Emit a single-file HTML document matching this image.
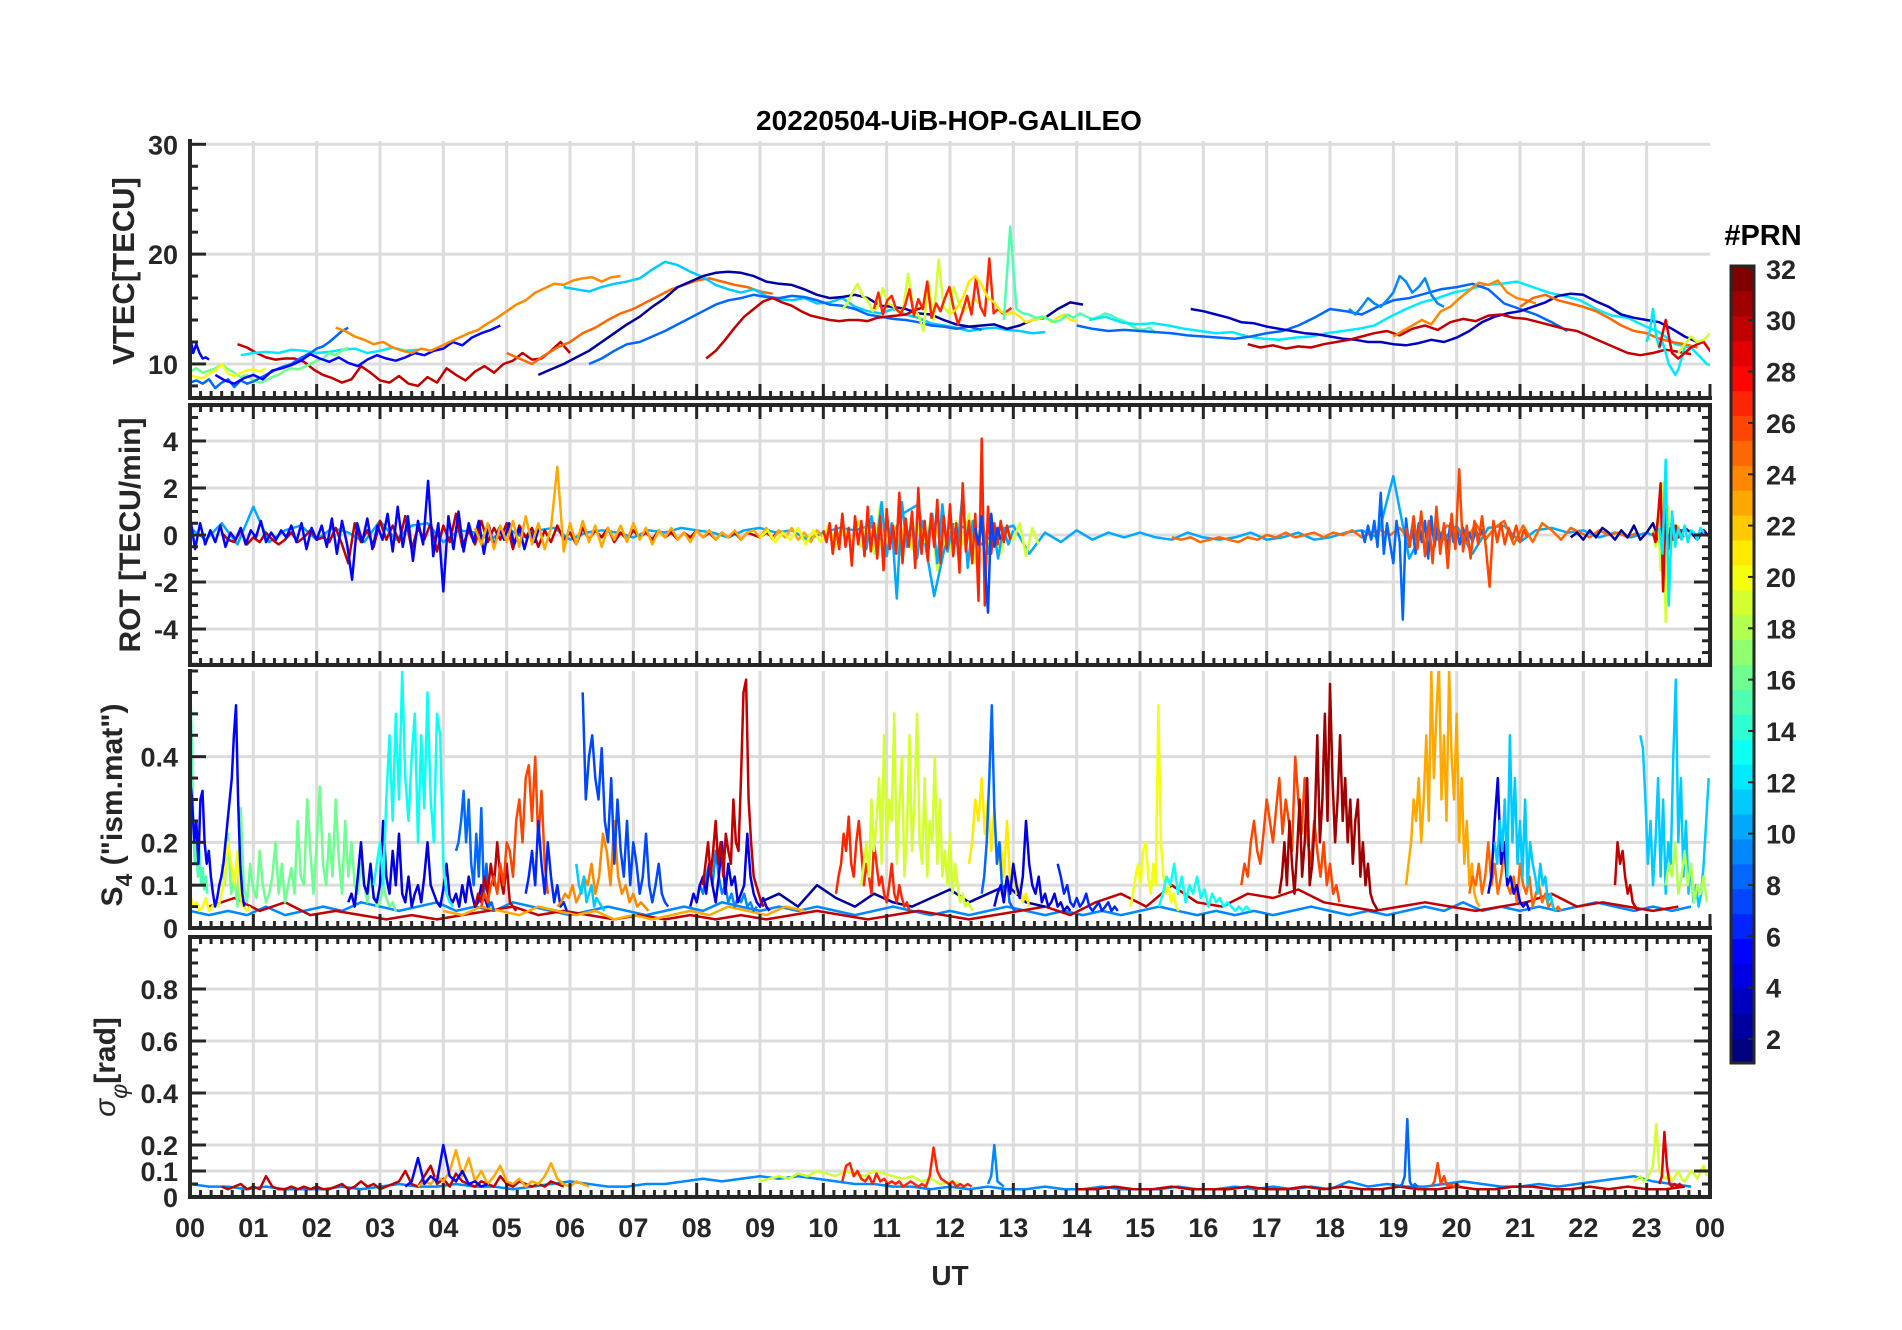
<!DOCTYPE html>
<html><head><meta charset="utf-8"><style>
html,body{margin:0;padding:0;background:#fff;}
svg{display:block;font-family:"Liberation Sans",Arial,sans-serif;}
</style></head><body>
<svg id="fig" width="1902" height="1330" viewBox="0 0 1902 1330">
<text x="949" y="130" text-anchor="middle" font-size="28" font-weight="bold" fill="#000">20220504-UiB-HOP-GALILEO</text>
<text transform="translate(134,271) rotate(-90)" text-anchor="middle" font-size="31" font-weight="bold" fill="#262626">VTEC[TECU]</text>
<text transform="translate(140,535) rotate(-90)" text-anchor="middle" font-size="30" font-weight="bold" fill="#262626">ROT [TECU/min]</text>
<text transform="translate(122,805) rotate(-90)" text-anchor="middle" font-size="30" font-weight="bold" fill="#262626">S<tspan font-size="23" dy="10">4</tspan><tspan dy="-10"> ("ism.mat")</tspan></text>
<text transform="translate(115,1067) rotate(-90)" text-anchor="middle" font-size="30" font-weight="bold" fill="#262626"><tspan font-style="italic" font-weight="normal">σ</tspan><tspan font-style="italic" font-weight="normal" font-size="23" dy="12">φ</tspan><tspan dy="-12">[rad]</tspan></text>
<text x="950" y="1285" text-anchor="middle" font-size="28" font-weight="bold" fill="#262626">UT</text>
<text x="1763" y="245" text-anchor="middle" font-size="29" font-weight="bold" fill="#000">#PRN</text>
<g id="layers"></g>
</svg>
<script>
// ---- colorbar data ----
const prnTicks = [2,4,6,8,10,12,14,16,18,20,22,24,26,28,30,32];
const hourTicks = ["00","01","02","03","04","05","06","07","08","09","10","11","12","13","14","15","16","17","18","19","20","21","22","23","00"];
// ---- VTEC series values ----
const v1=[12.5,11,11.8,11,10.5,10.6,10.4];
const v2=[11.8,11.5,11,10.6,10.4,10.5,10.5,10.2,9.5,9,8.7,8.3,8.6,9.8,9.2,8.5,8.3,8.9,8.2,8.0,8.8,8.3,9.6,9.0,8.5,9.3,9.8,9.2,10,10.3,11,10.4,10.5,11.2,12,11];
const v3=[10.8,11,11.1,11,11.3,11.2,11,11.1,11.3,11.4,11,11.2,11.5,11.2,11.3];
const v4=[9.3,9.6,9.2,9.4,9.6,10,9.5,9.2,8.8,9,8.5,8.3,8.5,8.8,9,9.4,9.6,9.5,9.7,10,10.3,10.5,11,10.8,11.2,11.5];
const v5=[9,8.8,8.7,9.1,9.4,10,9.1,8.9,9.2,9.4,9.5,9.3,9.6];
const v6=[8.3,8.5,8.2,8.6,7.8,8.3,8.6,7.9,8.5,8.2,8.4,8.7,9,9.3,9.6,9.8,10,10.4,10.7,11,11.4,11.6,12,12.5,13,13.3];
const v7=[9,8.5,8.2,8.7,9,8.6,9.4,9.6,9.9,10.3,10.9,10.5,10.2,10.6,10.1,9.8,10.4,10.8,10.5,10.3,10.6,11,10.8,11.2,11.4,12,11.7,12.4,12.8,13.1,13.5];
const v8=[13.3,13,12.5,12.2,11.8,12,11.5,11.2,11,11.4,11.2,11.6,12,12.4,12.8,13.1,13.7,14.2,14.8,15.4,15.8,16.5,16.9,17.3,17.2,17.6,17.8,17.9,17.5,17.9,18];
const v9=[11,10.5,10,10.8,11.5,12,12.8,13.3,14,14.6,15,15.6,16.2,16.8,17.2,17.6,17.8,17.5,17.2,17,16.6,16.4];
const v10=[17,16.8,16.6,17,17.3,17.5,17.8,18.6,19.3,19,18.4,17.9,17.2,16.8,16.5,16.8,16.2,15.9,15.8,16,15.5,15.6,16,15.2,14.8,14.6,15,14.5,14.2,13.7,13.5,13.3,13,13.2,13.3,13.1,13,12.8,12.9];
const v11=[10,10.5,11.2,11.8,12,12.5,13,13.6,14.2,14.8,15.4,15.8,16,16.3,16.1,16,16.2,16.1,15.8,15.4,15.3,15,14.5,14.3,14.1,14,13.8,13.5,13.4,13.2,13.4,13.1];
const v12=[9,9.5,10,10.6,11.2,12,12.8,13.6,14.3,15.2,16,17,17.5,18,18.3,18.4,18.3,18,17.5,17.3,17.2,16.8,16.3,16,16.1,16.3,16,15.3,15.2,15,14.6,14.5,14,13.6,13.4,13.5,13.6,13.2,13.5,14,14.2,15,15.6,15.4];
const v13=[10.5,11.2,12.2,13.3,14.3,15,15.7,16,15.6,15.3,14.8,14.4,14.2,14,13.9,14,14,13.9,14.2,14.3,14.4,14.5,14.9,15.2];
const v14=[15,15.5,16.5,17.3,16.2,15.8,14.8,15.2,16.9,15.5,15.3,14.7,15,18.2,15,14.5,13,17.5,14,19.5,15.2,14.6,17,15.5,14.8,15.3,16,15.5];
const v15=[15,16.5,14.5,15.8,16.2,15,14.6,15.3,16.8,14.4,15.9,15,17.5,14.2,15.5,14.8,16,17,15,13.6,14.8,16.2,14.5,17.8,15.2,14.4,19.6,14.6,15,14.6,14.8,15.1];
const v16=[14.5,15,16,17.5,18,17.2,16,15.6,14.8,14.5,14.7,14.3,13.8,14,14.1,14.3,13.8,14.2,14.5,14,13.9];
const v17=[14,22.5,15,14.6,14.5,14.2,14.3,14.1,13.8,14,14.5,14.2,14.6,14.3,14.1,14.3,14.6,14.4,14.1,13.9,13.5,13.2,13.1,13.3,12.8];
const v18=[14,14.3,13.8,13.6,13.7,13.5,13.2,13,12.8,12.9,12.5,12.3,12.2,12.4,12.5,12.8,13,13.2,13.5,14.3,15,15.6,16,16.5,16.8,17.2,17.3,17.5,17,16.5,16.2,15.8,15,14.4,14.2,13.5,12.9,11.8,11.5,10,9.5];
const v19=[15,14.8,14.5,14.2,13.8,13.7,13.4,13.2,13,12.8,12.7,12.5,12.3,12.2,12,12,11.8,11.7,11.9,12.2,12,12.4,13,13.8,14.3,14.6,14.8,15.2,15.6,16.2,16.4,16.3,15.7,15.2,14.5,14.2,14,13.8,13.2,12.5,12];
const v20=[11.8,11.5,11.7,11.4,11.6,11.5,11.8,12,12.2,12.5,12.8,13,12.6,13.2,13.5,13.1,13.8,14.1,13.9,14.4,14.5,14.2,14.1,13.8,13.5,13.2,13,12.5,12,11.5,11,10.8,11,11.3,11.1,10.9];
const v21=[15,14.5,15.2,16,15.5,15.2,15.8,16.5,18,17.5,16.5,17,17.8,16.3,15.5,15.2];
const v22=[12.5,13,13.5,14,13.6,14.8,15.2,16,16.7,17.4,17.2,17.6,16.5,16,15.8,15.5];
const v23=[15.2,16,16.3,15.8,15.5,15.2,14.8,14.2,13.5,13,12.8,12.3,12,11.8,11.5];
const v24=[12,13,15,12.5,11.5,12,11,10,9.5,9,9.5,10.5,11.5];
const v25=[11.5,14,11,10.5,11,11.5,11.8,12,11.2,10.5];
const v26=[11,11.8,12.5,12,12.2,12.8];
const v27=[13.5,13.2,13,13.1,13,12.9,12.8,12.6,12.5,12.4,12.3,12.5,12.8,13,13.5,14.2,15,14.8,14.5,15.2,15.8,16,16.4,16.8,17,17.3,16.8,15.5,15,14.5,13.8,13];
// [values, prn, startHour, stepHour]
const vtecSeries=[[v1,5,0,.05],[v2,30,.75,.15],[v3,12,.8,.2],[v4,16,0,.1],[v5,20,0,.1],[v6,8,0,.1],[v7,5,.4,.15],[v8,24,2.3,.15],[v9,25,5,.2],[v10,11,5.9,.2],[v11,8,6.3,.2],[v12,2,5.5,.2],[v13,30,8.15,.15],[v14,19,10.3,.08],[v15,27,10.8,.07],[v16,21,12,.1],[v17,15,12.85,.1],[v18,12,14.2,.25],[v27,8,14,.25],[v19,3,15.8,.2],[v20,30,16.7,.2],[v21,9,18.3,.1],[v22,24,19,.15],[v23,25,21,.2],[v24,12,23,.05],[v25,29,23.2,.1],[v26,19,23.5,.1]];
// ---- ROT series values ----
const r1=[.1,-.2,-.3,.2,-.4,-.1,-.3,.1,-.2,-.4,-.2,.1,-.3,-.1,.2,-.2,-.1,-.3,.3,-.4,-1.2,.5,-.3,.2,-.5,.6,-.2,.4,-.3,.8,-.6,.3,-.2,.5,-.7,.4,-.3,.9,-.5,.2,-.4,.6,-.3,.3,-.2,.5,-.6,.4,-.1,.3,-.5,.2,-.3,.4,-.2,.1,-.4,.3,-.2,.2,-.1,.3,-.3,.1,-.2,.2,-.1,.1,-.2,.2,-.1,.1,-.2,.1,-.1,.2,-.1,.1,-.2,.1,-.1,.1,-.2,.1,0,-.1,.1,-.1,.2,-.1];
const r2=[.8,-.6,.5,-.4,.2,-.3,.4,-.5,.1,-.2,.3,-.4,.2,-.1,.6,-.3,.1,-.2,.2,-.1,.4,-.3,.5,-.6,.3,-.2,.4,-.5,.7,-.8,.6,-.4,-1.9,.5,-.3,.7,-.6,.4,-.2,.9,-.7,1.2,-.5,.8,-1.1,.6,-.4,2.3,-.9,.5,-2.4,.8,-.6,1,-.7,.5,-.3,.6,-.8,.4,-.5,.3,-.2,.5,-.4,.3,-.6,.2,-.3,.4];
const r3=[.3,-.4,.5,-.6,.4,-.3,.6,-.5,.8,-.4,.5,-.6,.3,2.9,-.7,.5,-.4,.6,-.3,.4,-.5,.3,-.2,.4,-.3,.5,-.2,.3,-.4,.2,-.1,.3,-.2,.1,-.3,.2,-.1,.2,-.2,.1,-.1,.2,-.2,.1,.2,-.1,.3,-.2,.2,-.1,.3,-.2,.1,-.3,.2,-.1,.1,-.2,.3,-.2];
const r4=[.3,-.2,.5,-.4,1.2,-.3,.2,.4,-.2,.3,.1,-.3,.6,-.2,.4,.5,-.3,.2,.1,-.2,.3,-.1,.2,.3,-.2,.1,.2,.1,-.1,.2,.1,.3,.2,.1,-.1,.2,.3,.1,.2,-.2,.1,.3,.2,.4,-.6,.9,1.3,-2.6,.5,.3,-.4,.2,.4,-.8,.1,-.3,.2,-.2,.1,-.1,.1,-.1,-.2,.1,-.1,-.2,-.1,.1,-.2,-.1,.1,-.2,-.1,.1,.2,-.1,2.5,-1,.3,-.3,.4,-.8,.3,.4,-.3,.2,.3,.1,.2,-.1,.1,-.1,.1,-.2,.3];
const r5=[.2,-.3,.5,-.8,.4,-.6,.9,-.5,.3,-1.3,.8,-.4,.6,-.9,1.2,-.7,.5,-1,.8,-1.5,1.1,-.6,.4,-.8,1.8,-1.2,.7,-.5,1,-1.4,2,-.8,.6,-1.1,.9,-.5,1.5,-1.2,.8,-.6,1.3,-.9,.5,-1.6,2.2,-.7,.6,-1.2,.9,-2.8,4.1,-3,1.2,-.8,.5,-.4,.6,-.3,.4,-.2];
const r6=[.2,-.5,.6,-.8,1.3,-.4,.5,-.9,.4,-.6,1.1,-.3,.7,-1.5,.5,-.7,.6,-.4,.9,-1.2,.3,-.5,.4,-.8,.3,-.2,.5,-.9,.3,-.4];
const r7=[.3,-.6,.8,-.4,1.4,-.9,.5,-2.7,1.4,-.5,.7,-1,.6,-.3,.9,-1.2,1.3,-.7,.4,-.5,1.8,-1.4,.6,-.3,.5,-.8,.4,-1,.3,-.4,.2];
const r7b=[.3,-.4,.8,-1.2,-3.3,.9,-.5,.3,-.2];
const r8=[-.1,-.2,-.1,-.3,-.2,-.1,-.2,-.3,-.1,-.2,0,-.1,.1,-.1,0,.1,-.1,.1,0,.2,-.1,.1,.2,0,.3,-.2,.1,.3,-.1,.4,.2,-.3,.5,-.2,.3,.6,-.4,.4,-.3,.5,.2,-.2,.3,.1,-.1,.2,0,.1,-.1,.1];
const r9=[.2,-.3,.4,-.2,.6,-.5,1.8,-.8,.5,-.4,-1.2,.6,-.3,-3.6,.7,-.5,.4,-.8,.5,-.3,.6,-1,.8,-.5,.4,-.2,.3,-.6,.5,-.3,.2,-.4,.3,-.2,.1,-.3,.2,-.1,.2,-.1];
const r10=[.3,-.5,.8,-.6,1,-.9,.6,-1.2,1.2,-.8,.5,-1.4,.9,-.6,2.8,-.7,.4,-1,.6,-.4,.8,-.5,-2.2,.6,-.3,.5,-.4,.3,-.2,.4,-.3,.2,-.1];
const r11=[.2,-.5,1,-1.5,2.2,-3.7,1.2,-.8,.5,-.3,.4,-.2];
const r12=[.1,-.3,.8,2.2,-2.4,1.1,-.6,.3,-.2,.4,-.1,.2,-.1];
const r13=[.3,-.8,3.2,-3,1,-.5,.3,-.2,.4,-.3,.2,.1,-.2,.3,.1];
const r14=[-.1,.1,-.2,.2,-.1,.3,.1,-.2,.2,-.1,.4,-.2,.1,.5,-.3,.8,.2,-.1,.3,.1,-.2,.2,-.1,.1,-.1];
const r15=[-.1,.2,-.3,.1,-.2,.3,-.4,.2,-.3,.4,-.5,.3,-.4,.6,-.2,.3,-.5,.2,-.4,.3,-.6,.4,-.2,.3,-.5,.2,-.3,.2,-.4,.2];
const rotSeries=[[r4,10,0,.25],[r1,30,.5,.1],[r2,5,0,.08],[r3,23,4.5,.1],[r15,20,9,.12],[r6,19,10.5,.1],[r7,10,10.6,.08],[r5,27,10,.05],[r7b,7,12.4,.05],[r8,25,15.5,.15],[r9,8,18.5,.05],[r10,26,19.2,.06],[r14,2,21.8,.1],[r11,19,23.1,.04],[r12,29,23.1,.04],[r13,12,23.2,.05]];
// ---- S4 series values ----
const a1=[.6,.45,.25,.15,.2,.12,.18,.1,.14,.09,.12,.08];
const a2=[.35,.3,.2,.25,.15,.3,.32,.2,.15,.18,.12,.08,.05,.07,.1,.12,.15,.2,.25,.3,.35,.45,.52,.3,.15,.08,.05];
const a3=[.15,.1,.22,.08,.12,.05,.28,.1,.06,.15,.09,.07,.18,.1,.06,.08,.12,.2,.08,.15,.06,.1,.14,.08,.25,.12,.1,.3,.18,.08,.2,.33,.15,.1,.22,.12,.3,.16,.08,.25,.12,.2,.1,.08,.15,.1,.06,.12,.08,.05,.06,.1,.07,.05,.06,.04];
const a4=[.08,.05,.06,.04,.05,.07,.04,.05,.06,.05,.08,.12,.2,.15,.1,.18,.06,.05,.04,.05];
const a5=[.1,.15,.2,.1,.3,.45,.25,.5,.3,.6,.35,.25,.4,.5,.2,.45,.28,.55,.3,.2,.5,.45,.15,.08,.06,.05];
const a6=[.06,.08,.05,.12,.2,.1,.08,.15,.07,.06,.1,.25,.12,.08,.18,.1,.22,.08,.06,.12,.05,.08,.1,.06,.12,.2,.1,.08,.06,.05,.09,.15,.07,.06,.08,.05,.1,.06,.12,.08,.05,.06,.1,.07,.05,.06];
const a7=[.18,.2,.25,.32,.2,.3,.15,.1,.22,.12,.28,.08,.15,.05,.06,.04];
const a8=[.05,.08,.06,.1,.12,.08,.15,.1,.2,.18,.12,.25,.3,.2,.35,.38,.25,.4,.2,.32,.15,.08];
const a9=[.05,.08,.06,.12,.08,.15,.1,.2,.12,.08,.15,.06,.05,.04];
const a10=[.08,.12,.18,.1,.25,.15,.08,.2,.12,.06,.1,.05,.06,.04];
const a11=[.55,.3,.4,.45,.35,.3,.42,.25,.2,.35,.15,.3,.18,.12,.25,.1,.2,.15,.08,.12,.22,.1,.06,.1,.15,.08,.06,.05];
const a12=[.05,.06,.08,.07,.1,.06,.08,.12,.1,.15,.08,.12,.22,.18,.1,.25,.12,.08,.1,.06,.08,.05,.06,.05,.04];
const a13=[.15,.1,.08,.12,.06,.08,.1,.05,.07,.06,.05,.04];
const a14=[.05,.08,.06,.1,.12,.08,.15,.1,.06,.12,.2,.08,.15,.1,.12,.06,.08,.1,.22,.12,.08,.06,.05,.07,.05,.04];
const a15=[.1,.15,.2,.12,.18,.25,.15,.2,.12,.22,.18,.15,.3,.2,.18,.35,.55,.58,.3,.2,.12,.1,.08,.06,.05];
const a16=[.06,.1,.08,.12,.15,.1,.18,.12,.08,.1,.06,.08,.05,.07,.06,.08,.05,.06,.04,.05];
const a17=[.08,.12,.15,.22,.18,.26,.15,.12,.2,.25,.18,.1,.15,.12,.08,.2,.15,.1,.12,.08,.06,.1,.15,.08,.06,.1,.07,.05,.06,.04];
const a18=[.1,.15,.2,.12,.3,.18,.25,.35,.15,.45,.2,.3,.25,.5,.15,.28,.4,.12,.22,.45,.18,.3,.5,.2,.15,.35,.12,.25,.2,.4,.15,.3,.12,.18,.1,.22,.08,.15,.1,.06,.08,.05,.06,.05,.04];
const a19=[.15,.2,.3,.25,.35,.22,.3,.18,.28,.15,.2,.12,.25,.1,.15,.08,.1,.06,.08,.05];
const a20=[.08,.12,.2,.35,.52,.28,.15,.2,.1,.08,.12,.06,.05,.04];
const a21=[.05,.08,.1,.06,.12,.08,.15,.1,.07,.12,.25,.15,.1,.08,.12,.06,.08,.05,.06,.08,.05,.06,.04,.05,.04];
const a22=[.05,.08,.12,.15,.1,.18,.2,.12,.08,.15,.1,.52,.2,.12,.08,.1,.06,.08,.05,.04];
const a23=[.05,.08,.12,.1,.15,.08,.12,.06,.1,.08,.12,.07,.09,.05,.08,.06,.07,.05,.06,.05,.04,.05,.04,.05,.04];
const a24=[.15,.12,.08,.1,.06,.05,.07,.05,.06,.08,.05,.04,.05,.06,.04,.05,.06,.04,.05,.04];
const a25=[.1,.15,.12,.2,.25,.18,.15,.22,.3,.25,.2,.28,.35,.22,.3,.25,.18,.4,.3,.22,.35,.2,.15,.25,.18,.12,.2,.1,.15,.08,.1,.06];
const a26=[.08,.12,.2,.1,.25,.15,.08,.18,.3,.12,.2,.35,.1,.15,.25,.45,.2,.3,.5,.25,.57,.35,.2,.3,.45,.25,.35,.2,.3,.15,.25,.3,.12,.2,.1,.15,.08,.06,.05,.04];
const a27=[.1,.15,.2,.3,.25,.35,.2,.3,.45,.25,.6,.35,.5,.62,.3,.45,.25,.6,.4,.3,.5,.2,.35,.15,.25,.1,.15,.08,.06,.05];
const a28=[.08,.12,.1,.15,.08,.12,.2,.1,.15,.08,.12,.18,.1,.08,.12,.06,.15,.1,.08,.12,.05,.08,.1,.06,.08,.05,.06,.04,.05,.04];
const a29=[.2,.15,.25,.18,.3,.12,.45,.2,.35,.15,.25,.12,.3,.1,.2,.15,.12,.08,.15,.1,.12,.06,.08,.05,.04];
const a30=[.08,.12,.25,.35,.15,.2,.1,.12,.08,.1,.06,.05,.06,.04];
const a31=[.1,.2,.15,.18,.12,.08,.1,.06,.05,.04];
const a32=[.45,.42,.3,.15,.25,.1,.2,.35,.12,.3,.08,.2,.15,.4,.58,.2,.35,.12,.25,.08,.15,.06,.1,.05,.08,.15,.25,.35];
const a33=[.1,.15,.12,.2,.08,.12,.18,.1,.15,.06,.1,.08,.12,.06];
const a34=[.05,.07,.04,.06,.03,.04,.03,.02,.03,.02,.03,.04,.05,.03,.04,.03,.02,.03,.02,.03,.02,.03,.02,.03,.04,.03,.02,.03,.04,.03,.02,.03,.04,.05,.03,.06,.08,.05,.1,.06,.05,.08,.07,.09,.06,.05,.04,.05,.06,.05,.04,.05,.06,.08,.05,.06,.05,.04,.05];
const a35=[.04,.03,.04,.03,.05,.03,.04,.05,.04,.06,.05,.04,.05,.06,.04,.05,.04,.06,.05,.04,.03,.04,.05,.04,.03,.04,.05,.04,.06,.05,.04,.05,.04,.05,.04,.03,.04,.05,.04,.03,.04,.03,.04,.05,.04,.03,.04,.03,.04,.03,.04,.05,.04,.03,.04,.03,.04,.03,.04,.05,.04,.03,.04,.03,.04,.05,.04,.06,.04,.05,.04,.05,.04,.05,.06,.05,.04,.05,.04,.05];
const a36=[.04,.03,.05,.04,.03,.05,.04,.03,.04,.02,.03,.02,.03,.04,.03,.05,.04,.03,.05,.04];
const a37=[.06,.08,.05,.1,.07,.05,.08,.06,.05,.07,.09,.06,.08,.1,.06,.05];
const s4Series=[[a35,9,0,.3],[a34,30,.3,.4],[a36,23,4,.3],[a37,2,9,.3],[a3,16,.5,.05],[a4,20,0,.05],[a1,15,0,.025],[a2,5,0,.033],[a6,4,2.5,.05],[a5,13,2.9,.05],[a7,8,4.2,.04],[a9,30,4.5,.05],[a8,26,4.6,.05],[a10,6,5.3,.05],[a12,24,5.8,.06],[a13,11,6.1,.04],[a11,7,6.2,.05],[a16,9,8,.05],[a14,4,7.9,.05],[a15,30,8.1,.04],[a17,27,10.2,.04],[a18,19,10.6,.04],[a19,21,12.3,.05],[a20,8,12.5,.04],[a21,4,12.7,.05],[a24,6,13.7,.05],[a22,20,14.85,.04],[a23,13,15.3,.06],[a25,26,16.6,.05],[a26,31,17.2,.04],[a27,23,19.2,.04],[a28,25,20.2,.05],[a30,4,20.5,.05],[a29,11,20.6,.04],[a31,30,22.5,.04],[a32,11,22.9,.04],[a33,18,23.3,.05]];
// ---- sigma-phi series values ----
const p1=[.05,.04,.04,.03,.04,.03,.03,.03,.04,.03,.04,.05,.04,.04,.05,.04,.04,.03,.04,.05,.06,.05,.04,.04,.05,.05,.06,.07,.06,.07,.08,.07,.08,.07,.06,.05,.05,.04,.04,.03,.04,.03,.04,.03,.03,.04,.03,.03,.04,.03,.03,.03,.04,.03,.03,.04,.03,.04,.03,.04,.03,.06,.04,.05,.04,.04,.05,.06,.05,.04,.04,.05,.04,.05,.06,.07,.08,.06,.05,.04];
const p2=[.04,.03,.04,.05,.03,.04,.03,.08,.04,.03,.03,.04,.03,.04,.03,.04,.03,.03,.04,.05,.03,.04,.06,.04,.05,.03,.04,.05,.06,.1,.05,.04,.08,.12,.05,.07,.04,.09,.06,.05,.04,.06,.05,.04,.08,.05,.04,.06,.05,.04,.05,.04,.06,.05,.04];
const p3=[.04,.06,.05,.08,.06,.1,.18,.08,.15,.06,.1,.05,.08,.12,.06,.05,.07,.04,.06,.05,.08,.13,.07,.05,.04,.06,.05,.04];
const p4=[.04,.06,.15,.05,.08,.06,.2,.08,.06,.1,.05,.06,.04,.05];
const p5=[.06,.07,.08,.07,.09,.08,.1,.09,.08,.1,.09,.08,.1,.09,.08,.07,.08,.06,.07,.05,.06,.05];
const p6=[.06,.12,.13,.08,.1,.07,.06,.08,.05,.09,.06,.07,.05,.06,.05,.06,.04,.05,.06,.05,.04,.05,.04,.08,.19,.1,.07,.06,.05,.06,.04,.05,.04,.05,.04];
const p7=[.05,.08,.2,.06,.05,.04];
const p8=[.04,.05,.08,.3,.06,.04,.05,.04];
const p9=[.04,.06,.13,.05,.08,.04,.05,.04,.05,.04];
const p10=[.06,.07,.08,.06,.07,.09,.12,.28,.1,.08,.07,.09,.06,.08,.1,.07,.06,.08,.1,.09,.07,.1,.12,.08];
const p11=[.05,.08,.25,.12,.05,.04,.05,.04,.05,.04];
const p12=[.03,.03,.04,.03,.03,.04,.03,.03,.03,.04,.03,.03,.04,.03,.04,.03,.03,.04,.03,.03,.04,.03,.03,.04,.04,.03,.03,.04,.03,.04,.03,.03,.04];
const sigSeries=[[p1,9,0,.3],[p12,30,14,.3],[p2,30,.5,.1],[p5,19,9,.15],[p3,23,3.6,.1],[p4,5,3.4,.1],[p6,27,10.3,.06],[p7,9,12.6,.05],[p8,8,19.1,.04],[p9,26,19.6,.05],[p10,19,22.8,.05],[p11,29,23.2,.04]];

// ---- layout ----
const X0=190, X1=1710, AX='#262626', NS='http://www.w3.org/2000/svg';
const xs=h=>X0+(X1-X0)*h/24;
const panels=[
 {key:'vtec',top:141,bot:398,min:6.9,max:30.3,major:[10,20,30],labels:['10','20','30'],minor:2,box:false,series:vtecSeries},
 {key:'rot',top:405,bot:665,min:-5.53,max:5.53,major:[-4,-2,0,2,4],labels:['-4','-2','0','2','4'],minor:.5,box:true,series:rotSeries},
 {key:'s4',top:671,bot:928,min:0,max:0.6,major:[0,.1,.2,.4],labels:['0','0.1','0.2','0.4'],minor:.05,box:false,series:s4Series},
 {key:'sigma',top:937,bot:1197,min:0,max:1,major:[0,.1,.2,.4,.6,.8],labels:['0','0.1','0.2','0.4','0.6','0.8'],minor:.05,box:true,series:sigSeries}
];
function jet(prn){
 const t=(prn-1)/31;
 const c=v=>Math.round(255*Math.max(0,Math.min(1,v)));
 return 'rgb('+c(1.5-Math.abs(4*t-3))+','+c(1.5-Math.abs(4*t-2))+','+c(1.5-Math.abs(4*t-1))+')';
}
function mk(tag,attrs,parent){const e=document.createElementNS(NS,tag);for(const k in attrs)e.setAttribute(k,attrs[k]);parent.appendChild(e);return e;}
const root=document.getElementById('layers');
const defs=mk('defs',{},root);
panels.forEach(p=>{
 const ys=v=>p.bot-(v-p.min)/(p.max-p.min)*(p.bot-p.top);
 const g=mk('g',{},root);
 
 
 const cp=mk('clipPath',{id:'clip-'+p.key},defs);
 mk('rect',{x:X0,y:p.top,width:X1-X0,height:p.bot-p.top},cp);
 const grid=mk('g',{stroke:'#dcdcdc','stroke-width':3},g);
 
 
 for(let h=1;h<24;h++){mk('line',{x1:xs(h),x2:xs(h),y1:p.top,y2:p.bot},grid);}
 p.major.forEach(v=>{if(v>p.min+1e-9)mk('line',{x1:X0,x2:X1,y1:ys(v),y2:ys(v)},grid);});
 const sg=mk('g',{'clip-path':'url(#clip-'+p.key+')',fill:'none','stroke-width':2.5,'stroke-linejoin':'round'},g);
 
 
 p.series.forEach((s,i)=>{
  const vals=s[0],prn=s[1],t0=s[2],dt=s[3];
  const d=vals.map((v,j)=>(j?'L':'M')+xs(t0+j*dt).toFixed(1)+','+ys(v).toFixed(1)).join('');
  const path=mk('path',{d:d,stroke:jet(prn)},sg);
  
  
 });
 const ax=mk('g',{stroke:AX,fill:'none'},g);
 
 
 mk('line',{x1:X0,x2:X0,y1:p.top-2,y2:p.bot+2,'stroke-width':4},ax);
 mk('line',{x1:X0-2,x2:X1+2,y1:p.bot,y2:p.bot,'stroke-width':4},ax);
 if(p.box){
  mk('line',{x1:X1,x2:X1,y1:p.top,y2:p.bot,'stroke-width':4},ax);
  mk('line',{x1:X0-2,x2:X1+2,y1:p.top,y2:p.top,'stroke-width':4},ax);
 }
 for(let k=0;k<=144;k++){
  const x=xs(k/6), L=(k%6===0)?14:7;
  mk('line',{x1:x,x2:x,y1:p.bot,y2:p.bot-L,'stroke-width':3},ax);
  if(p.box) mk('line',{x1:x,x2:x,y1:p.top,y2:p.top+L,'stroke-width':3},ax);
 }
 const n=Math.round((p.max-p.min)/p.minor)+2;
 const start=Math.ceil((p.min-1e-9)/p.minor);
 for(let k=start;k<start+n;k++){
  const v=k*p.minor; if(v>p.max+1e-9)break;
  const isMaj=p.major.some(m=>Math.abs(m-v)<1e-6), L=isMaj?16:8;
  mk('line',{x1:X0,x2:X0+L,y1:ys(v),y2:ys(v),'stroke-width':3},ax);
  if(p.box) mk('line',{x1:X1,x2:X1-L,y1:ys(v),y2:ys(v),'stroke-width':3},ax);
 }
 p.major.forEach((v,i)=>{
  const t=mk('text',{x:178,y:ys(v)+10,'text-anchor':'end','font-size':27,'font-weight':'bold',fill:AX},g);
  t.textContent=p.labels[i];
  
  
 });
});
hourTicks.forEach((lab,h)=>{
 const t=mk('text',{x:xs(h),y:1237,'text-anchor':'middle','font-size':27,'font-weight':'bold',fill:AX},root);
 t.textContent=lab;
 
 
});
const CB={x:1731,w:23,top:266,bot:1063};
const cb=mk('g',{},root);


const bh=(CB.bot-CB.top)/32;
for(let i=0;i<32;i++){
 mk('rect',{x:CB.x,y:CB.bot-(i+1)*bh,width:CB.w,height:bh+0.6,fill:jet(i+1)},cb);
}
mk('rect',{x:CB.x,y:CB.top,width:CB.w,height:CB.bot-CB.top,fill:'none',stroke:AX,'stroke-width':3},cb);
const cy=v=>1039-(v-2)*25.67;
prnTicks.forEach(v=>{
 mk('line',{x1:CB.x+CB.w-6,x2:CB.x+CB.w,y1:cy(v),y2:cy(v),stroke:AX,'stroke-width':2},cb);
 const t=mk('text',{x:1766,y:cy(v)+10,'font-size':27,'font-weight':'bold',fill:AX},cb);
 t.textContent=String(v);
 
 
});
</script>
</body></html>
